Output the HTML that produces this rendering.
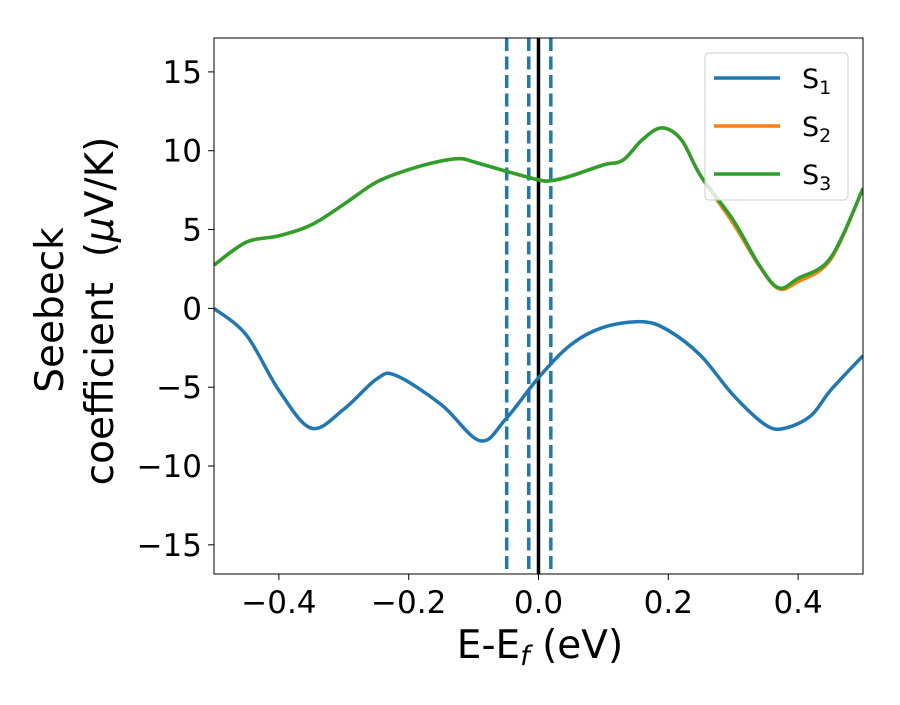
<!DOCTYPE html>
<html><head><meta charset="utf-8"><style>
body{margin:0;background:#fff;}
svg text{font-family:"DejaVu Sans","Liberation Sans",sans-serif;fill:#000;}
</style></head><body>
<svg id="chart" width="900" height="700"></svg>
<script>
const xS1=[-0.5,-0.45,-0.4,-0.35,-0.3,-0.25,-0.22,-0.15,-0.09,-0.05,0,0.05,0.1,0.16,0.2,0.25,0.3,0.35,0.38,0.42,0.45,0.5];
const yS1=[0,-1.7,-5.2,-7.6,-6.4,-4.5,-4.25,-6.1,-8.4,-7.0,-4.4,-2.3,-1.2,-0.85,-1.4,-3.0,-5.5,-7.4,-7.6,-6.8,-5.2,-3.0];
const xS3=[-0.5,-0.45,-0.4,-0.35,-0.3,-0.25,-0.2,-0.15,-0.12,-0.1,-0.05,0,0.02,0.05,0.1,0.13,0.16,0.19,0.22,0.25,0.3,0.34,0.37,0.4,0.45,0.5];
const yS3=[2.75,4.2,4.6,5.3,6.6,8.0,8.8,9.35,9.5,9.3,8.7,8.15,8.1,8.4,9.1,9.4,10.7,11.45,10.7,8.4,5.6,2.75,1.3,1.9,3.2,7.6];
const yS2=[2.75,4.2,4.6,5.3,6.6,8.0,8.8,9.35,9.5,9.3,8.7,8.15,8.1,8.4,9.1,9.4,10.7,11.45,10.7,8.4,5.4,2.7,1.25,1.7,3.1,7.6];
const vDashed=[-0.049,-0.015,0.019];
const vSolid=[0];
const xTicks=[-0.4,-0.2,0.0,0.2,0.4];
const xTickLabels=["\u22120.4","\u22120.2","0.0","0.2","0.4"];
const yTicks=[-15,-10,-5,0,5,10,15];
const yTickLabels=["\u221215","\u221210","\u22125","0","5","10","15"];

const L=214,R=863,T=38,B=574,x0=-0.5,x1=0.5,y0=-16.85,y1=17.15;
const X=v=>L+(v-x0)/(x1-x0)*(R-L);
const Y=v=>B-(v-y0)/(y1-y0)*(B-T);
const svg=document.getElementById('chart');
const NS='http://www.w3.org/2000/svg';
function mk(tag,attrs,parent){const e=document.createElementNS(NS,tag);for(const k in attrs)e.setAttribute(k,attrs[k]);(parent||svg).appendChild(e);return e;}
function smooth(xs,ys){
  const p=xs.map((x,i)=>[X(x),Y(ys[i])]);
  let d='M'+p[0][0]+','+p[0][1];
  for(let i=0;i<p.length-1;i++){
    const a=p[i-1]||p[i],b=p[i],c=p[i+1],e=p[i+2]||c;
    const c1=[b[0]+(c[0]-a[0])/6,b[1]+(c[1]-a[1])/6],c2=[c[0]-(e[0]-b[0])/6,c[1]-(e[1]-b[1])/6];
    d+=`C${c1[0]},${c1[1]} ${c2[0]},${c2[1]} ${c[0]},${c[1]}`;
  }
  return d;
}
mk('clipPath',{id:'clip'}).appendChild(mk('rect',{x:L,y:T,width:R-L,height:B-T}));
const g=mk('g',{'clip-path':'url(#clip)'});
vDashed.forEach(v=>{const l=mk('line',{x1:X(v),x2:X(v),y1:T,y2:B,stroke:'#1f77b4','stroke-width':3.5,'stroke-dasharray':'13,5.5'},g);

});
vSolid.forEach(v=>{const l=mk('line',{x1:X(v),x2:X(v),y1:T,y2:B,stroke:'#000','stroke-width':3.5},g);

});
const s1=mk('path',{d:smooth(xS1,yS1),fill:'none',stroke:'#1f77b4','stroke-width':3.5},g);


const s2=mk('path',{d:smooth(xS3,yS2),fill:'none',stroke:'#ff7f0e','stroke-width':3.5},g);


const s3=mk('path',{d:smooth(xS3,yS3),fill:'none',stroke:'#2ca02c','stroke-width':3.5},g);


const fr=mk('rect',{x:L,y:T,width:R-L,height:B-T,fill:'none',stroke:'#000','stroke-width':1});


xTicks.forEach((v,i)=>{mk('line',{x1:X(v),x2:X(v),y1:B,y2:B+6,stroke:'#000'});
const t=mk('text',{x:X(v),y:B+39,'font-size':31,'text-anchor':'middle'});t.textContent=xTickLabels[i];

});
yTicks.forEach((v,i)=>{mk('line',{x1:L-6,x2:L,y1:Y(v),y2:Y(v),stroke:'#000'});
const t=mk('text',{x:L-12,y:Y(v)+11,'font-size':31,'text-anchor':'end'});t.textContent=yTickLabels[i];

});
</script>
<svg width="900" height="700" style="position:absolute;left:0;top:0">
<text x="540" y="658" font-size="39" text-anchor="middle">E-E<tspan font-style="italic" font-size="27" dy="7">f</tspan><tspan dy="-7"> (eV)</tspan></text>
<text transform="translate(63,310) rotate(-90)" font-size="39" text-anchor="middle">Seebeck</text>
<text transform="translate(113,311) rotate(-90)" font-size="39" text-anchor="middle" xml:space="preserve">coefficient  (<tspan font-style="italic">μ</tspan>V/K)</text>
<g>
<rect x="705" y="53" width="143" height="147" rx="4" fill="#fff" fill-opacity="0.8" stroke="#ccc"/>
<line x1="714" x2="780" y1="78" y2="78" stroke="#1f77b4" stroke-width="3.5"/>
<text x="802" y="88" font-size="27">S<tspan font-size="19" dy="6">1</tspan></text>
<line x1="714" x2="780" y1="126" y2="126" stroke="#ff7f0e" stroke-width="3.5"/>
<text x="802" y="136" font-size="27">S<tspan font-size="19" dy="6">2</tspan></text>
<line x1="714" x2="780" y1="174" y2="174" stroke="#2ca02c" stroke-width="3.5"/>
<text x="802" y="184" font-size="27">S<tspan font-size="19" dy="6">3</tspan></text>
</g>
</svg>
</body></html>
